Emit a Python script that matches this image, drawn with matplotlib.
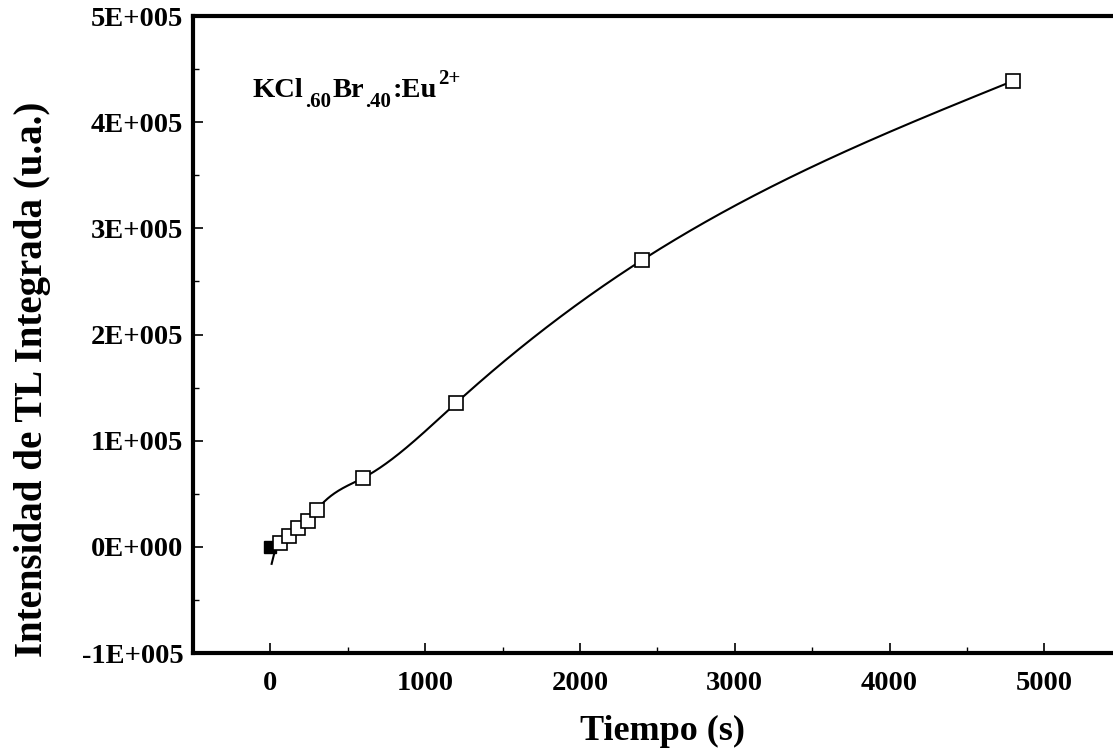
import numpy as np
import matplotlib
matplotlib.use("Agg")
import matplotlib.pyplot as plt
from matplotlib.ticker import FixedLocator, MultipleLocator

# data
tiempo = [60, 120, 180, 240, 300, 600, 1200, 2400, 4800]
intensidad = [3.8e3, 10.5e3, 18e3, 24.5e3, 35e3, 65e3, 135.5e3, 270e3, 439e3]
t0 = [0]
i0 = [0]
y_ticks = [-1e5, 0, 1e5, 2e5, 3e5, 4e5, 5e5]
y_labels = ["-1E+005", "0E+000", "1E+005", "2E+005", "3E+005", "4E+005", "5E+005"]
x_ticks = [0, 1000, 2000, 3000, 4000, 5000]


def natural_spline(x, y, xs):
    # plain natural cubic spline, only used to draw the smooth line
    x = np.asarray(x, float)
    y = np.asarray(y, float)
    n = len(x)
    h = np.diff(x)
    A = np.zeros((n, n))
    b = np.zeros(n)
    A[0, 0] = 1
    A[-1, -1] = 1
    for i in range(1, n - 1):
        A[i, i - 1] = h[i - 1]
        A[i, i] = 2 * (h[i - 1] + h[i])
        A[i, i + 1] = h[i]
        b[i] = 6 * ((y[i + 1] - y[i]) / h[i] - (y[i] - y[i - 1]) / h[i - 1])
    M = np.linalg.solve(A, b)
    k = np.clip(np.searchsorted(x, xs) - 1, 0, n - 2)
    t1 = x[k + 1] - xs
    t2 = xs - x[k]
    hk = h[k]
    return (M[k] * t1**3 / (6 * hk) + M[k + 1] * t2**3 / (6 * hk)
            + (y[k] / hk - M[k] * hk / 6) * t1
            + (y[k + 1] / hk - M[k + 1] * hk / 6) * t2)


plt.rcParams["font.family"] = ["Liberation Serif", "DejaVu Serif"]
plt.rcParams["font.weight"] = "bold"

fig = plt.figure(figsize=(11.13, 7.56), dpi=100)
ax = fig.add_axes([0.1734, 0.1362, 0.8345, 0.8426])

xs = np.linspace(tiempo[0], tiempo[-1], 1500)
ax.plot(xs, natural_spline(tiempo, intensidad, xs), color="black", lw=1.5, zorder=2)
# short tail of the fitted curve below the first point
ax.plot([8, tiempo[0] - 25], [-16e3, intensidad[0] - 4e3], color="black", lw=1.5, zorder=2)
ax.plot(t0, i0, ls="none", marker="s", ms=9, mfc="black", mec="black", zorder=3)
ax.plot(tiempo, intensidad, ls="none", marker="s", ms=9.5, mfc="white",
        mec="black", mew=1.2, zorder=3)

ax.set_xlim(-500, 5500)
ax.set_ylim(-1e5, 5e5)
ax.xaxis.set_major_locator(FixedLocator(x_ticks))
ax.xaxis.set_minor_locator(MultipleLocator(500))
ax.yaxis.set_major_locator(FixedLocator(y_ticks))
ax.yaxis.set_minor_locator(MultipleLocator(5e4))
ax.set_yticklabels(y_labels)
ax.tick_params(which="both", direction="in", labelsize=20.5)
ax.tick_params(which="major", length=7, width=1.2)
ax.tick_params(which="minor", length=4, width=1.0)
ax.tick_params(axis="y", pad=7)
ax.tick_params(axis="x", pad=13)
for sp in ax.spines.values():
    sp.set_linewidth(3.0)

ax.set_xlabel("Tiempo (s)", fontsize=26, fontweight="bold")
ax.xaxis.set_label_coords(0.506, -0.098)
ax.set_ylabel("Intensidad de TL Integrada (u.a.)", fontsize=28, fontweight="bold")
ax.yaxis.set_label_coords(-0.153, 0.43)

# KCl.60Br.40:Eu2+ built from pieces so sub/superscripts sit right
t = ax.text(-115, 4.24e5, "KCl", fontsize=20.5, va="baseline")
pieces = [(".60", 15, -6.5), ("Br", 20.5, 6.5), (".40", 15, -6.5), (":Eu", 20.5, 6.5), ("2+", 15, 10)]
prev = t
for s, fs, dy in pieces:
    prev = ax.annotate(s, xy=(1, 0), xycoords=prev, xytext=(1, dy),
                       textcoords="offset points", fontsize=fs, va="bottom", ha="left")

fig.savefig("out.png", dpi=100)
